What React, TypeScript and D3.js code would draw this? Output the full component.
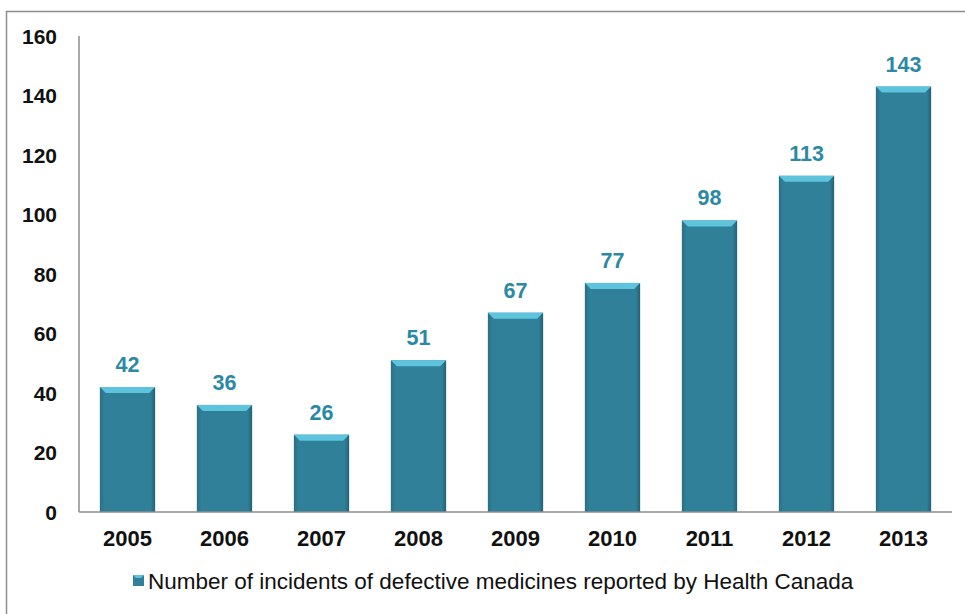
import * as React from 'react';
import * as d3 from 'd3';

const years = ['2005', '2006', '2007', '2008', '2009', '2010', '2011', '2012', '2013'];
const incidents = [42, 36, 26, 51, 67, 77, 98, 113, 143];
const yTicks = [0, 20, 40, 60, 80, 100, 120, 140, 160];
const seriesName = 'Number of incidents of defective medicines reported by Health Canada';

const width = 965;
const height = 614;
const margin = {top: 36, right: 13, bottom: 102, left: 79};

export default function App() {
  const ref = React.useRef<SVGSVGElement>(null);

  React.useEffect(() => {
    const svg = d3.select(ref.current);
    svg.selectAll('*').remove();
    const font = '"Liberation Sans", Arial, sans-serif';

    const defs = svg.append('defs');
    const grad = defs.append('linearGradient').attr('id', 'barGrad').attr('x1', 0).attr('x2', 1);
    grad.append('stop').attr('offset', '0%').attr('stop-color', '#2a6f82');
    grad.append('stop').attr('offset', '8%').attr('stop-color', '#2f8098');
    grad.append('stop').attr('offset', '92%').attr('stop-color', '#2f8098');
    grad.append('stop').attr('offset', '100%').attr('stop-color', '#236273');

    // outer frame
    svg.append('path')
      .attr('d', `M6.5,${height} V11.5 H${width}`)
      .attr('fill', 'none')
      .attr('stroke', '#8c8c8c')
      .attr('stroke-width', 1.5);

    const x = d3.scaleBand()
      .domain(years)
      .range([margin.left, width - margin.right])
      .paddingInner(0.43)
      .paddingOuter(0.215);
    const y = d3.scaleLinear()
      .domain([0, 160])
      .range([height - margin.bottom, margin.top]);

    // y axis
    svg.append('line')
      .attr('x1', margin.left).attr('x2', margin.left)
      .attr('y1', y(160)).attr('y2', y(0))
      .attr('stroke', '#8c8c8c').attr('stroke-width', 1.5);
    svg.append('g').selectAll('text')
      .data(yTicks)
      .join('text')
      .attr('x', 57)
      .attr('y', d => y(d))
      .attr('dy', '0.36em')
      .attr('text-anchor', 'end')
      .attr('font-family', font)
      .attr('font-weight', 'bold')
      .attr('font-size', 21)
      .attr('fill', '#111')
      .text(d => d);

    // bars
    const bars = svg.append('g').selectAll('g')
      .data(years.map((yr, i) => ({yr, v: incidents[i]})))
      .join('g');
    bars.append('rect')
      .attr('x', d => x(d.yr)!)
      .attr('y', d => y(d.v))
      .attr('width', x.bandwidth())
      .attr('height', d => y(0) - y(d.v))
      .attr('fill', 'url(#barGrad)');
    const bev = 6;
    bars.append('path')
      .attr('d', d => {
        const x0 = x(d.yr)!;
        const x1 = x0 + x.bandwidth();
        const t = y(d.v);
        return `M${x0},${t} H${x1} L${x1 - bev},${t + bev} H${x0 + bev} Z`;
      })
      .attr('fill', '#5ec4dd');
    bars.append('text')
      .attr('x', d => x(d.yr)! + x.bandwidth() / 2)
      .attr('y', d => y(d.v) - 15)
      .attr('text-anchor', 'middle')
      .attr('font-family', font)
      .attr('font-weight', 'bold')
      .attr('font-size', 21.5)
      .attr('fill', '#2b89a3')
      .text(d => d.v);

    // x axis
    svg.append('line')
      .attr('x1', margin.left).attr('x2', width - margin.right)
      .attr('y1', y(0)).attr('y2', y(0))
      .attr('stroke', '#8c8c8c').attr('stroke-width', 1.5);
    svg.append('g').selectAll('text')
      .data(years)
      .join('text')
      .attr('x', d => x(d)! + x.bandwidth() / 2)
      .attr('y', y(0) + 34)
      .attr('text-anchor', 'middle')
      .attr('font-family', font)
      .attr('font-weight', 'bold')
      .attr('font-size', 22)
      .attr('fill', '#111')
      .text(d => d);

    // legend
    const lg = svg.append('g').attr('transform', 'translate(133,575)');
    lg.append('rect').attr('width', 11).attr('height', 11).attr('fill', '#2f8098');
    lg.append('path').attr('d', 'M0,0 H11 L8,3 H3 Z').attr('fill', '#5ec4dd');
    lg.append('text')
      .attr('x', 15)
      .attr('y', 14)
      .attr('font-family', font)
      .attr('font-size', 22.5)
      .attr('fill', '#111')
      .text(seriesName);
  }, []);

  return (
    <svg ref={ref} width={width} height={height}
      style={{position: 'absolute', left: 0, top: 0, background: '#fff'}} />
  );
}
